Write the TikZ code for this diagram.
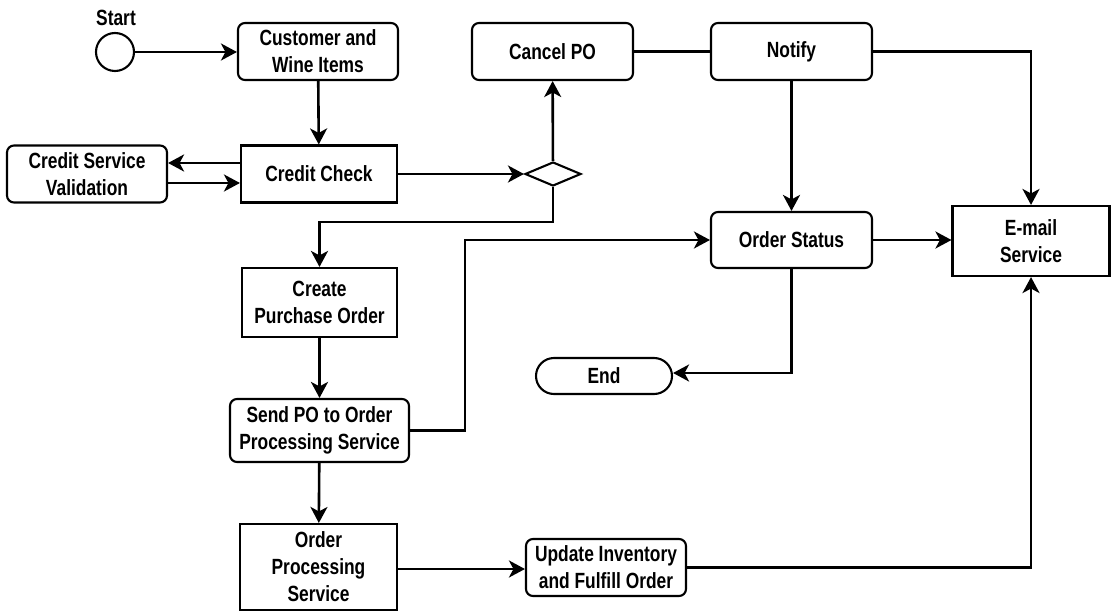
\documentclass[tikz,border=0pt]{standalone}
\usepackage{fontspec}
\setmainfont{Liberation Sans}[FakeStretch=0.79]
\usetikzlibrary{arrows.meta,shapes.geometric,calc}
\tikzset{
  base/.style={draw=black, line width=2.1pt, fill=white, align=center, inner sep=0pt,
    font=\fontsize{22}{27}\selectfont\bfseries},
  rbox/.style={base, rounded corners=7pt},
  sbox/.style={base},
  conn/.style={line width=2.6pt, -{Stealth[length=16pt, width=17pt, inset=4.5pt]}},
  plain/.style={line width=2.4pt},
}
\begin{document}
\begin{tikzpicture}[x=1pt, y=-1pt]
\useasboundingbox (0,0) rectangle (1115,612);
% nodes
\node[draw, circle, line width=2.1pt, minimum size=38pt, inner sep=0pt] (start) at (115,52) {};
\node[font=\fontsize{22}{26}\selectfont\bfseries] (startlbl) at (116,18) {Start};
\node[rbox, minimum width=160pt, minimum height=57pt] (cust) at (318,51.5) {Customer and\\Wine Items};
\node[sbox, minimum width=156pt, minimum height=57pt] (cc) at (319,174) {Credit Check};
\node[rbox, minimum width=160pt, minimum height=57pt] (csv) at (87,174) {Credit Service\\Validation};
\node[draw, diamond, line width=2.1pt, minimum width=56pt, minimum height=24pt, inner sep=0pt, fill=white] (dia) at (553,174) {};
\node[rbox, minimum width=161pt, minimum height=57pt] (cancel) at (552.5,51.5) {Cancel PO};
\node[rbox, minimum width=161pt, minimum height=57pt] (notify) at (791.5,51.5) {Notify};
\node[rbox, minimum width=161pt, minimum height=56pt] (ostatus) at (791.5,240) {Order Status};
\node[sbox, minimum width=157pt, minimum height=70pt] (email) at (1031,241) {E-mail\\Service};
\node[sbox, minimum width=155pt, minimum height=69pt] (cpo) at (319.5,302.5) {Create\\Purchase Order};
\node[rbox, minimum width=179pt, minimum height=63pt] (send) at (319.5,430.5) {Send PO to Order\\Processing Service};
\node[sbox, minimum width=157pt, minimum height=86pt] (ops) at (318.5,567) {Order\\Processing\\Service};
\node[rbox, minimum width=160pt, minimum height=57pt] (upd) at (606,567.5) {Update Inventory\\and Fulfill Order};
\node[base, rounded corners=18pt, minimum width=136pt, minimum height=36pt] (end) at (604,376) {End};
% junctions
\coordinate (j1) at (553,222);
\coordinate (j2) at (465,430.5);
% connectors
\draw[conn] (start) -- (cust.west |- start);
\draw[conn] (cust) -- (cc);
\draw[conn] ([yshift=11pt]cc.west) -- ([yshift=11pt]csv.east);
\draw[conn] ([yshift=-9pt]csv.east) -- ([yshift=-9pt]cc.west);
\draw[conn] (cc) -- (dia);
\draw[conn] (dia) -- (cancel);
\draw[conn] (dia.south) -- (j1) -| (cpo.north);
\draw[plain] (cancel) -- (notify);
\draw[conn] (notify) -- (ostatus);
\draw[conn] (notify.east) -| (email.north);
\draw[conn] (ostatus.east) -- (ostatus.east -| email.west);
\draw[conn] (send.east) -- (j2) |- (ostatus.west);
\draw[conn] (ostatus.south) |- ([yshift=3pt]end.east);
\draw[conn] (cpo) -- (send);
\draw[conn] (send) -- (ops);
\draw[conn] ([yshift=-2pt]ops.east) -- ([yshift=-1.5pt]upd.west);
\draw[conn] (upd.east) -| (email.south);
\end{tikzpicture}
\end{document}
